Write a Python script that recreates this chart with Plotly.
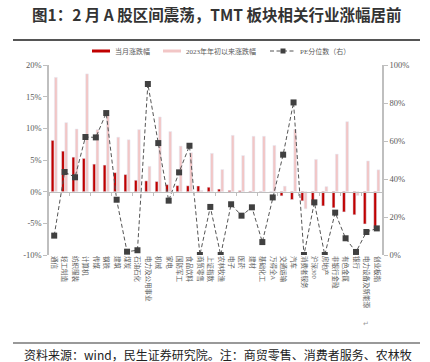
import plotly.graph_objects as go

categories = ["通信", "轻工制造", "纺织服装", "计算机", "传媒", "钢铁", "建筑", "煤炭",
              "石油石化", "电力及公用事业", "机械", "家电", "国防军工", "食品饮料", "商贸零售",
              "上证指数", "农林牧渔", "电子", "医药", "建材", "基础化工", "万得全A", "交通运输",
              "汽车", "消费者服务", "沪深300", "房地产", "非银行金融", "有色金属", "银行",
              "电力设备及新能源", "创业板指"]

month_change = [8.1, 6.4, 5.45, 5.25, 4.35, 4.2, 3.0, 2.7, 1.8, 1.7, 1.6, 1.1, 0.95, 0.92, 0.9,
                0.7, 0.4, 0.18, 0.15, 0.08, 0.05, 0.02, -0.66, -1.25, -1.45, -2.1, -2.25, -2.55,
                -3.2, -3.65, -5.1, -5.8]

ytd_change = [18.05, 10.9, 9.9, 18.6, 9.8, 12.1, 8.6, 8.2, 9.8, 4.0, 11.8, 9.5, 7.2, 6.15, 0.2,
              6.05, 3.5, 8.9, 5.7, 8.75, 8.75, 7.3, 0.87, 9.83, -2.7, 5.1, 0.8, 5.93, 11.05, -0.6,
              4.85, 3.45]

pe_pct = [10.2, 43.7, 40.9, 62.1, 61.9, 74.7, 29.1, 1.75, 2.5, 90.0, 58.9, 28.6, 43.5, 57.5, 0.0,
          25.3, 0.0, 26.7, 20.7, 25.1, 6.8, 30.3, 52.8, 80.3, 0.0, 27.7, 0.0, 22.3, 8.8, 1.6,
          12.1, 14.0]

left_ticks = [-10, -5, 0, 5, 10, 15, 20]
left_labels = ["-10%", "-5%", "0%", "5%", "10%", "15%", "20%"]
right_ticks = [0, 20, 40, 60, 80, 100]
right_labels = ["0%", "20%", "40%", "60%", "80%", "100%"]

series_names = ["当月涨跌幅", "2023年年初以来涨跌幅", "PE分位数（右）"]

RED = "#C00000"
PINK = "#F2C6C6"
DARK = "#404040"
LINE = "#555555"
GRAY_TXT = "#595959"
AXIS = "#BFBFBF"
SERIF = "Liberation Serif, Noto Sans CJK SC, serif"
CJK = "Noto Sans CJK SC, sans-serif"
DASH = "4px,2.5px"

W, H = 430, 362
L, R, T, B = 49, 48, 65, 107
pw, ph = W - L - R, H - T - B


def px(xp):
    return (xp - L) / pw


def py(yp):
    return (H - B - yp) / ph


fig = go.Figure()

fig.add_trace(go.Bar(x=categories, y=month_change, name=series_names[0], marker_color=RED))
fig.add_trace(go.Bar(x=categories, y=ytd_change, name=series_names[1], marker_color=PINK))
fig.add_trace(go.Scatter(x=categories, y=pe_pct, yaxis="y2", name=series_names[2],
                         mode="lines+markers",
                         line=dict(color=LINE, width=1, dash=DASH),
                         marker=dict(symbol="square", size=6, color=DARK)))

# helper trace for the zero-line axis
fig.add_trace(go.Scatter(x=categories, y=[None] * len(categories), xaxis="x2", yaxis="y",
                         showlegend=False, hoverinfo="skip"))

fig.update_layout(
    width=W, height=H,
    margin=dict(l=L, r=R, t=T, b=B, pad=0, autoexpand=False),
    paper_bgcolor="white", plot_bgcolor="white",
    barmode="group", bargap=0.38, bargroupgap=0.12,
    showlegend=False,
    xaxis=dict(type="category", range=[-0.5, len(categories) - 0.5], showline=False,
               ticks="", showgrid=False, tickangle=90, automargin=False,
               tickfont=dict(family=SERIF, size=6.5, color=GRAY_TXT)),
    xaxis2=dict(type="category", overlaying="x", anchor="free", position=1 / 3,
                range=[-0.5, len(categories) - 0.5], showline=True, linecolor=AXIS,
                linewidth=1, ticks="outside", ticklen=3, tickcolor=AXIS, tickson="boundaries",
                showticklabels=False, showgrid=False),
    yaxis=dict(range=[-10, 20], tickvals=left_ticks, ticktext=left_labels, showgrid=False,
               zeroline=False, showline=True, linecolor=AXIS, linewidth=1.5, ticks="outside",
               ticklen=4, tickcolor=AXIS, automargin=False,
               tickfont=dict(family=SERIF, size=8.5, color=GRAY_TXT)),
    yaxis2=dict(range=[0, 100], tickvals=right_ticks, ticktext=right_labels, overlaying="y",
                side="right", showgrid=False, zeroline=False, showline=True, linecolor=AXIS,
                linewidth=1.5, ticks="outside", ticklen=4, tickcolor=AXIS, automargin=False,
                tickfont=dict(family=SERIF, size=8.5, color=GRAY_TXT)),
)

# ---- legend (drawn in paper space) ----
leg_y = py(51)
fig.add_shape(type="rect", xref="paper", yref="paper", x0=px(92), x1=px(110),
              y0=py(49.5), y1=py(52.5), fillcolor=RED, line=dict(width=0))
fig.add_shape(type="rect", xref="paper", yref="paper", x0=px(163), x1=px(181),
              y0=py(49.5), y1=py(52.5), fillcolor=PINK, line=dict(width=0))
fig.add_shape(type="line", xref="paper", yref="paper", x0=px(270), x1=px(296),
              y0=leg_y, y1=leg_y, line=dict(color=LINE, width=1, dash=DASH))
fig.add_shape(type="rect", xref="paper", yref="paper", x0=px(280.5), x1=px(285.5),
              y0=py(48.5), y1=py(53.5), fillcolor=DARK, line=dict(width=0))
for name, xpos in zip(series_names, [113, 184, 298]):
    fig.add_annotation(text=name, xref="paper", yref="paper", x=px(xpos), y=leg_y,
                       xanchor="left", yanchor="middle", showarrow=False,
                       font=dict(family=SERIF, size=7, color=GRAY_TXT))

# title & header rule
fig.add_annotation(text="<b>图1：2 月 A 股区间震荡，TMT 板块相关行业涨幅居前</b>",
                   xref="paper", yref="paper", x=px(216), y=py(14), xanchor="center",
                   yanchor="middle", showarrow=False,
                   font=dict(family=CJK, size=15.5, color="#333333"))
fig.add_shape(type="line", xref="paper", yref="paper", x0=px(13), x1=px(420), y0=py(40),
              y1=py(40), line=dict(color="#555555", width=2))

# footer
fig.add_shape(type="line", xref="paper", yref="paper", x0=px(13), x1=px(420), y0=py(343),
              y1=py(343), line=dict(color="#777777", width=1.5))
fig.add_annotation(text="资料来源：wind，民生证券研究院。注：商贸零售、消费者服务、农林牧",
                   xref="paper", yref="paper", x=px(22), y=py(354), xanchor="left",
                   yanchor="middle", showarrow=False,
                   font=dict(family=CJK, size=12, color="#222222"))
fig.add_annotation(text="↵", xref="paper", yref="paper", x=px(366), y=py(323),
                   xanchor="center", yanchor="middle", showarrow=False,
                   font=dict(family=CJK, size=7, color="#999999"))

fig.write_html("out.html",
               config={"displayModeBar": False},
               post_script="document.body.style.margin='0';"
                           "document.body.style.overflow='hidden';")
